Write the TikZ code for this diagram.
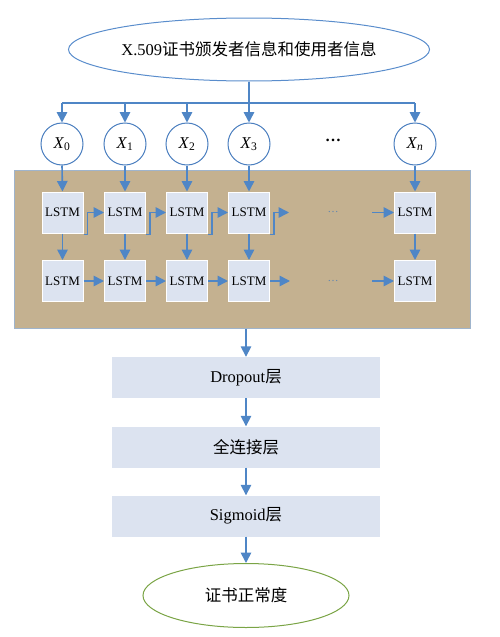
\documentclass[tikz,border=0pt]{standalone}
\usepackage{fontspec}
\setmainfont{Liberation Serif}
\newfontfamily\cjk{Noto Sans CJK SC}
\usetikzlibrary{arrows.meta,shapes.geometric}
\definecolor{arr}{HTML}{4F86C6}
\definecolor{circ}{HTML}{4A7EBF}
\definecolor{lstmfill}{HTML}{DCE3F0}
\definecolor{tan}{HTML}{C4B190}
\definecolor{tanborder}{HTML}{9FB4CC}
\definecolor{topell}{HTML}{5A8DCC}
\definecolor{green}{HTML}{7AA445}
\begin{document}
\begin{tikzpicture}[x=1pt,y=-1pt,
  conn/.style={draw=arr, line width=1.6pt, -{Triangle[length=10.5pt,width=10.5pt]}},
  xnode/.style={circle, draw=circ, fill=white, line width=1pt, minimum size=42pt, inner sep=0pt, font=\fontsize{16.5}{16.5}\selectfont},
  lstm/.style={draw=white, fill=lstmfill, line width=1pt, minimum size=41pt, inner sep=0pt, font=\fontsize{13}{13}\selectfont},
  layer/.style={fill=lstmfill, minimum width=268pt, minimum height=41pt, inner sep=0pt, font=\fontsize{16.5}{16.5}\selectfont},
  dotsbox/.style={text=arr!70!gray, font=\fontsize{11}{11}\selectfont, inner sep=0pt}]
\useasboundingbox (0,0) rectangle (499,637);
% top ellipse
\node[ellipse, draw=topell, line width=1pt, minimum width=332pt, minimum height=63pt, inner sep=0pt, font=\fontsize{16.5}{16.5}\selectfont] (top) at (249,49.5) {X.509{\cjk 证书颁发者信息和使用者信息}};
% brown container
\node[draw=tanborder, fill=tan, line width=1pt, minimum width=456pt, minimum height=158pt, inner sep=0pt] (brown) at (242,249) {};
% input circles
\node[xnode] (x0) at (62,144) {\textit{X}\textsubscript{0}};
\node[xnode] (x1) at (125,144) {\textit{X}\textsubscript{1}};
\node[xnode] (x2) at (187,144) {\textit{X}\textsubscript{2}};
\node[xnode] (x3) at (249,144) {\textit{X}\textsubscript{3}};
\node[xnode] (xn) at (415,144) {\textit{X}\textsubscript{\textit{n}}};
\node[font=\bfseries\fontsize{16}{16}\selectfont, inner sep=0pt] (tdots) at (333,140) {…};
% LSTM cells
\foreach \c/\x in {0/62.5,1/125,2/187,3/249,n/415}{
  \node[lstm] (a\c) at (\x,212.5) {LSTM};
  \node[lstm] (b\c) at (\x,281) {LSTM};
}
\node[dotsbox] (d1) at (333,212) {…};
\node[dotsbox] (d2) at (333,281) {…};
% layers
\node[layer] (drop) at (246,377.5) {Dropout{\cjk 层}};
\node[layer] (fc) at (246,447) {{\cjk 全连接层}};
\node[layer] (sig) at (246,516) {Sigmoid{\cjk 层}};
\node[ellipse, draw=green, line width=1pt, minimum width=206pt, minimum height=64pt, inner sep=0pt, font=\fontsize{16.5}{16.5}\selectfont] (out) at (246,595.5) {{\cjk 证书正常度}};
% top distribution
\coordinate (bar) at (0,103);
\draw[draw=arr, line width=1.6pt] (x0 |- bar) -- (xn |- bar);
\draw[conn] (top.south) -- (x3.north);
\foreach \c in {0,1,2,n}{\draw[conn] (x\c |- bar) -- (x\c.north);}
% circles to LSTM
\foreach \c in {0,1,2,3,n}{
  \draw[conn] (x\c.south) -- (a\c.north);
  \draw[conn] (a\c.south) -- (b\c.north);
}
% row 1 elbow connectors
\draw[conn] ([yshift=-1pt]a0.south east) -- ++(4,0) |- (a1.west);
\draw[conn] ([yshift=-1pt]a1.south east) -- ++(4,0) |- (a2.west);
\draw[conn] ([yshift=-1pt]a2.south east) -- ++(4,0) |- (a3.west);
\coordinate (e1) at (289,212.5);
\draw[conn] ([yshift=-1pt]a3.south east) -- ++(4,0) |- (e1);
\coordinate (s1) at (372,212.5);
\draw[conn] (s1) -- (an.west);
% row 2 connectors
\draw[conn] (b0.east) -- (b1.west);
\draw[conn] (b1.east) -- (b2.west);
\draw[conn] (b2.east) -- (b3.west);
\coordinate (e2) at (290,281);
\draw[conn] (b3.east) -- (e2);
\coordinate (s2) at (372,281);
\draw[conn] (s2) -- (bn.west);
% vertical chain
\draw[conn] (drop.north |- brown.south) -- (drop.north);
\draw[conn] (drop.south) -- (fc.north);
\draw[conn] (fc.south) -- (sig.north);
\draw[conn] (sig.south) -- (out.north);
\end{tikzpicture}
\end{document}
